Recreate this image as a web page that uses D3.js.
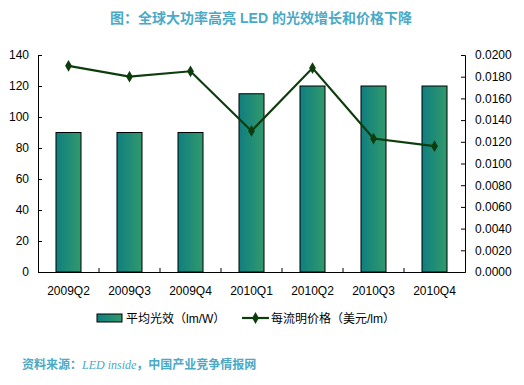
<!DOCTYPE html>
<html>
<head>
<meta charset="utf-8">
<script src="https://d3js.org/d3.v7.min.js"></script>
<style>
  body { margin: 0; background: #fff; }
  text { font-family: Arial, "Liberation Sans", "Noto Sans CJK SC", sans-serif; }
</style>
</head>
<body>
<div id="chart"></div>
<script>
// 数据
var quarters = ["2009Q2", "2009Q3", "2009Q4", "2010Q1", "2010Q2", "2010Q3", "2010Q4"];
var efficacy = [90, 90, 90, 115, 120, 120, 120];           // 平均光效 (lm/W)
var price = [0.0190, 0.0180, 0.0185, 0.0130, 0.0188, 0.0123, 0.0116]; // 每流明价格
var leftTicks = [0, 20, 40, 60, 80, 100, 120, 140];
var rightTicks = [0, 0.002, 0.004, 0.006, 0.008, 0.010, 0.012, 0.014, 0.016, 0.018, 0.020];

// 注意: 不能用 top 作全局变量名 (window.top 只读)
var width = 524, height = 385,
    plotL = 38, plotR = 465, plotT = 55, plotB = 272;

var svg = d3.select("#chart").append("svg")
    .attr("width", width)
    .attr("height", height);

var defs = svg.append("defs");
var grad = defs.append("linearGradient").attr("id", "barGrad")
    .attr("x1", "0%").attr("x2", "100%").attr("y1", "0%").attr("y2", "0%");
grad.append("stop").attr("offset", "0%").attr("stop-color", "#0f7f80");
grad.append("stop").attr("offset", "100%").attr("stop-color", "#32996c");

var x = d3.scaleBand().domain(quarters).range([plotL, plotR]).paddingInner(0.59).paddingOuter(0.295);
var y = d3.scaleLinear().domain([0, 140]).range([plotB, plotT]);
var y2 = d3.scaleLinear().domain([0, 0.02]).range([plotB, plotT]);

// 标题
svg.append("text")
    .attr("x", 261).attr("y", 23)
    .attr("text-anchor", "middle")
    .style("font-size", "14px").style("font-weight", "bold")
    .attr("fill", "#4aa9c6")
    .text("图：全球大功率高亮 LED 的光效增长和价格下降");

// 柱子
svg.selectAll("rect.bar").data(efficacy).enter().append("rect")
    .attr("class", "bar")
    .attr("x", function(d, i) { return x(quarters[i]); })
    .attr("y", function(d) { return y(d); })
    .attr("width", x.bandwidth())
    .attr("height", function(d) { return y(0) - y(d); })
    .attr("fill", "url(#barGrad)")
    .attr("stroke", "#000").attr("stroke-width", 1);

// 左轴
var yAxis = d3.axisLeft(y).tickValues(leftTicks).tickSize(-4).tickPadding(9);
var gl = svg.append("g").attr("transform", "translate(" + plotL + ",0)").call(yAxis);

// 右轴
var yAxis2 = d3.axisRight(y2).tickValues(rightTicks).tickSize(-4).tickPadding(10)
    .tickFormat(d3.format(".4f"));
var gr = svg.append("g").attr("transform", "translate(" + plotR + ",0)").call(yAxis2);

// X 轴
var xAxis = d3.axisBottom(x).tickSize(0).tickPadding(14);
var gx = svg.append("g").attr("transform", "translate(0," + plotB + ")").call(xAxis);
var step = x.step();
gx.selectAll("line.sep").data(d3.range(1, quarters.length)).enter().append("line")
    .attr("class", "sep")
    .attr("x1", function(i) { return plotL + i * step; })
    .attr("x2", function(i) { return plotL + i * step; })
    .attr("y1", 0).attr("y2", -4)
    .attr("stroke", "#000");

[gl, gr, gx].forEach(function(g) {
  g.select(".domain").attr("stroke", "#000").attr("stroke-width", 1);
  g.selectAll(".tick line").attr("stroke", "#000");
  g.selectAll("text").style("font-size", "12px").attr("fill", "#000")
    .style("font-family", "Arial, 'Liberation Sans', sans-serif");
});

// 折线
var line = d3.line()
    .x(function(d, i) { return x(quarters[i]) + x.bandwidth() / 2; })
    .y(function(d) { return y2(d); });
svg.append("path").datum(price)
    .attr("d", line)
    .attr("fill", "none")
    .attr("stroke", "#0d3d0d").attr("stroke-width", 2.2);

var diamond = d3.symbol().type(d3.symbolDiamond).size(40);
svg.selectAll("path.pt").data(price).enter().append("path")
    .attr("class", "pt")
    .attr("d", diamond)
    .attr("transform", function(d, i) {
      return "translate(" + (x(quarters[i]) + x.bandwidth() / 2) + "," + y2(d) + ")";
    })
    .attr("fill", "#0d3d0d");

// 图例
var lg = svg.append("g").attr("transform", "translate(0,318)");
lg.append("rect").attr("x", 97).attr("y", -4).attr("width", 25).attr("height", 8)
    .attr("fill", "url(#barGrad)").attr("stroke", "#000");
lg.append("text").attr("x", 126).attr("y", 4.5).style("font-size", "12px")
    .text("平均光效（lm/W）");
lg.append("line").attr("x1", 242).attr("x2", 269).attr("y1", 0).attr("y2", 0)
    .attr("stroke", "#0d3d0d").attr("stroke-width", 2.2);
lg.append("path").attr("d", diamond).attr("transform", "translate(255.5,0)").attr("fill", "#0d3d0d");
lg.append("text").attr("x", 271).attr("y", 4.5).style("font-size", "12px")
    .text("每流明价格（美元/lm）");

// 资料来源
var src = svg.append("text").attr("x", 22).attr("y", 369)
    .style("font-size", "12px").attr("fill", "#4aa9c6");
src.append("tspan").style("font-weight", "bold").text("资料来源：");
src.append("tspan").style("font-style", "italic")
    .style("font-family", "'Liberation Serif', 'DejaVu Serif', serif").text("LED inside");
src.append("tspan").style("font-weight", "bold").text("，中国产业竞争情报网");
</script>
</body>
</html>
